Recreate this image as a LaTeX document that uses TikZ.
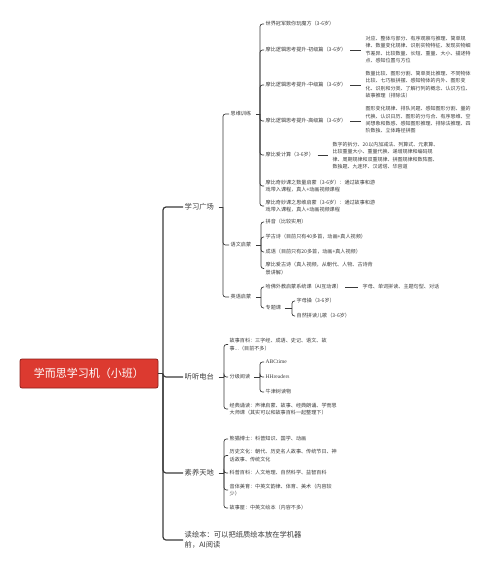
\documentclass[tikz,border=0pt]{standalone}
\usepackage{fontspec}
\setmainfont{Noto Sans CJK SC}
\newfontfamily\latinserif{Liberation Serif}
\usepackage{xcolor}
\definecolor{rootred}{HTML}{DC3A30}
\definecolor{rootedge}{HTML}{8A1F1A}
\definecolor{inkgray}{HTML}{3A3A3A}

\begin{document}
\begin{tikzpicture}[x=1pt,y=-1pt,
	rootbox/.style={draw=rootedge,line width=0.8pt,fill=rootred,rounded corners=2pt,
		minimum width=138pt,minimum height=29pt,text=white,font=\fontsize{11}{13}\selectfont},
	branch/.style={anchor=west,inner sep=1.5pt,text=inkgray,align=left,
		font=\fontsize{7.3}{10.5}\selectfont},
	leaf/.style={anchor=west,inner sep=1.5pt,text=inkgray,align=left,
		font=\fontsize{5.1}{7.3}\selectfont},
	detail/.style={leaf,font=\fontsize{5}{7.3}\selectfont},
	mainline/.style={draw=inkgray,line width=1.2pt,rounded corners=3pt},
	subline/.style={draw=inkgray,line width=0.7pt,rounded corners=2.5pt},
	detline/.style={draw=inkgray,line width=0.7pt,shorten <=2pt,shorten >=3pt}]

	\useasboundingbox (0,0) rectangle (500,565);

	% spine positions
	\coordinate (sx0) at (163,0);
	\coordinate (sxA) at (223,0);
	\coordinate (sxB) at (224,0);
	\coordinate (sxSW) at (260,0);
	\coordinate (sxYW) at (261,0);
	\coordinate (sxZT) at (292,0);
	\coordinate (sxFJ) at (260,0);

	% root and main branches
	\node[rootbox] (root) at (89,373.5) {学而思学习机（小班）};
	\node[branch] (xx) at (183,207) {学习广场};
	\node[branch] (tt) at (183,377) {听听电台};
	\node[branch] (sy) at (183,473) {素养天地};
	\node[branch] (hb) at (183,540) {读绘本：可以把纸质绘本放在学机器\\前，AI阅读};

	\draw[mainline] (root.east) -- (root.east -| sx0);
	\draw[mainline] (root.east -| sx0) |- (xx.west);
	\draw[mainline] (root.east -| sx0) |- (tt.west);
	\draw[mainline] (root.east -| sx0) |- (sy.west);
	\draw[mainline] (root.east -| sx0) |- (hb.west);

	% 学习广场
	\node[leaf] (sw) at (229,114) {思维训练};
	\node[leaf] (yw) at (229,245) {语文启蒙};
	\node[leaf] (yy) at (229,297) {英语启蒙};

	\draw[subline,shorten <=3pt] (xx.east) -- (xx.east -| sxA);
	\draw[subline] (xx.east -| sxA) |- (sw.west);
	\draw[subline] (xx.east -| sxA) |- (yw.west);
	\draw[subline] (xx.east -| sxA) |- (yy.west);

	% 思维训练
	\node[leaf] (m1) at (264,24) {世界冠军数你玩魔方（3-6岁）};
	\node[leaf] (m2) at (264,50) {摩比逻辑思考提升-初级篇（3-6岁）};
	\node[leaf] (m3) at (264,85) {摩比逻辑思考提升-中级篇（3-6岁）};
	\node[leaf] (m4) at (264,121) {摩比逻辑思考提升-高级篇（3-6岁）};
	\node[leaf] (m5) at (264,155) {摩比爱计算（3-6岁）};
	\node[leaf] (m6) at (264,186) {摩比奇妙课之数量启蒙（3-6岁）：通过故事和游\\戏带入课程，真人+动画视频课程};
	\node[leaf] (m7) at (264,206) {摩比奇妙课之思维启蒙（3-6岁）：通过故事和游\\戏带入课程，真人+动画视频课程};

	\draw[subline,shorten <=3pt] (sw.east) -- (sw.east -| sxSW);
	\draw[subline] (sw.east -| sxSW) |- (m1.west);
	\draw[subline] (sw.east -| sxSW) |- (m2.west);
	\draw[subline] (sw.east -| sxSW) |- (m3.west);
	\draw[subline] (sw.east -| sxSW) |- (m4.west);
	\draw[subline] (sw.east -| sxSW) |- (m5.west);
	\draw[subline] (sw.east -| sxSW) |- (m6.west);
	\draw[subline] (sw.east -| sxSW) |- (m7.west);

	\node[detail] (d2) at (364,49.5) {对应、整体与部分、有序观察与推理、简单规\\律、数量变化规律、识别实物特征、发现实物细\\节差异、比较数量、长短、重量、大小、描述特\\点、感知位置与方位};
	\node[detail] (d3) at (364,84.5) {数量比较、图形分割、简单类比推理、不同物体\\比较、七巧板拼摆、感知物体的内外、图形变\\化、识别和分类、了解行列的概念、认识方位、\\故事推理（排除法）};
	\node[detail] (d4) at (364,120) {图形变化规律、排队问题、感知图形分割、量的\\代换、认识日历、图形的分与合、有序思维、空\\间想象和数感、感知图形推理、排除法推理、四\\阶数独、立体路径拼图};
	\node[detail] (d5) at (331,155.5) {数字的拆分、20以内加减法、列算式、元素算、\\比较重量大小、重量代换、递增规律和编码规\\律、周期规律和双重规律、拼图规律和数阵图、\\数独题、九连环、汉诺塔、华容道};

	\draw[detline] (m2.east) -- (m2.east -| d2.west);
	\draw[detline] (m3.east) -- (m3.east -| d3.west);
	\draw[detline] (m4.east) -- (m4.east -| d4.west);
	\draw[detline] (m5.east) -- (m5.east -| d5.west);

	% 语文启蒙
	\node[leaf] (p1) at (264,222) {拼音（比较实用）};
	\node[leaf] (p2) at (264,237) {学古诗（目前只有40多首，动画+真人视频）};
	\node[leaf] (p3) at (264,252) {成语（目前只有20多首，动画+真人视频）};
	\node[leaf] (p4) at (264,268.5) {摩比爱古诗（真人视频，从朝代、人物、古诗背\\景讲解）};

	\draw[subline,shorten <=3pt] (yw.east) -- (yw.east -| sxYW);
	\draw[subline] (yw.east -| sxYW) |- (p1.west);
	\draw[subline] (yw.east -| sxYW) |- (p2.west);
	\draw[subline] (yw.east -| sxYW) |- (p3.west);
	\draw[subline] (yw.east -| sxYW) |- (p4.west);

	% 英语启蒙
	\node[leaf] (e1) at (264,287) {哈佛外教启蒙系统课（AI互动课）};
	\node[leaf] (e1d) at (361,287) {字母、单词拼读、主题句型、对话};
	\node[leaf] (e2) at (264,308) {专题课};
	\node[leaf] (z1) at (295,301) {字母操（3-6岁）};
	\node[leaf] (z2) at (295,316) {自然拼读儿歌（3-6岁）};

	\draw[subline,shorten <=3pt] (yy.east) -- (yy.east -| sxYW);
	\draw[subline] (yy.east -| sxYW) |- (e1.west);
	\draw[subline] (yy.east -| sxYW) |- (e2.west);
	\draw[detline] (e1.east) -- (e1d.west);
	\draw[subline,shorten <=2pt] (e2.east) -- (e2.east -| sxZT);
	\draw[subline] (e2.east -| sxZT) |- (z1.west);
	\draw[subline] (e2.east -| sxZT) |- (z2.west);

	% 听听电台
	\node[leaf] (gs) at (228,344.5) {故事百科：三字经、成语、史记、语文、故\\事...（目前不多）};
	\node[leaf] (fj) at (228,377) {分级阅读};
	\node[leaf] (jd) at (228,409) {经典诵读：声律启蒙、故事、经典朗诵、学而思\\大师课（其实可以和故事百科一起整理下）};

	\draw[subline,shorten <=3pt] (tt.east) -- (tt.east -| sxB);
	\draw[subline] (tt.east -| sxB) |- (gs.west);
	\draw[subline] (tt.east -| sxB) |- (fj.west);
	\draw[subline] (tt.east -| sxB) |- (jd.west);

	\node[leaf,font=\latinserif\fontsize{5.5}{7}\selectfont] (r1) at (264,362) {ABCtime};
	\node[leaf,font=\latinserif\fontsize{5.5}{7}\selectfont] (r2) at (264,377) {HHreaders};
	\node[leaf] (r3) at (264,392) {牛津树读物};

	\draw[subline,shorten <=2pt] (fj.east) -- (fj.east -| sxFJ);
	\draw[subline] (fj.east -| sxFJ) |- (r1.west);
	\draw[subline] (fj.east -| sxFJ) |- (r2.west);
	\draw[subline] (fj.east -| sxFJ) |- (r3.west);

	% 素养天地
	\node[leaf] (xm) at (228,439) {熊猫博士：科普知识、国学、动画};
	\node[leaf] (ls) at (228,455.5) {历史文化：朝代、历史名人故事、传统节日、神\\话故事、传统文化};
	\node[leaf] (kp) at (228,473) {科普百科：人文地理、自然科学、益智百科};
	\node[leaf] (yt) at (228,490) {音体美育：中英文韵律、体育、美术（内容较\\少）};
	\node[leaf] (gw) at (228,508) {故事屋：中英文绘本（内容不多）};

	\draw[subline,shorten <=3pt] (sy.east) -- (sy.east -| sxB);
	\draw[subline] (sy.east -| sxB) |- (xm.west);
	\draw[subline] (sy.east -| sxB) |- (ls.west);
	\draw[subline] (sy.east -| sxB) |- (kp.west);
	\draw[subline] (sy.east -| sxB) |- (yt.west);
	\draw[subline] (sy.east -| sxB) |- (gw.west);

\end{tikzpicture}
\end{document}
